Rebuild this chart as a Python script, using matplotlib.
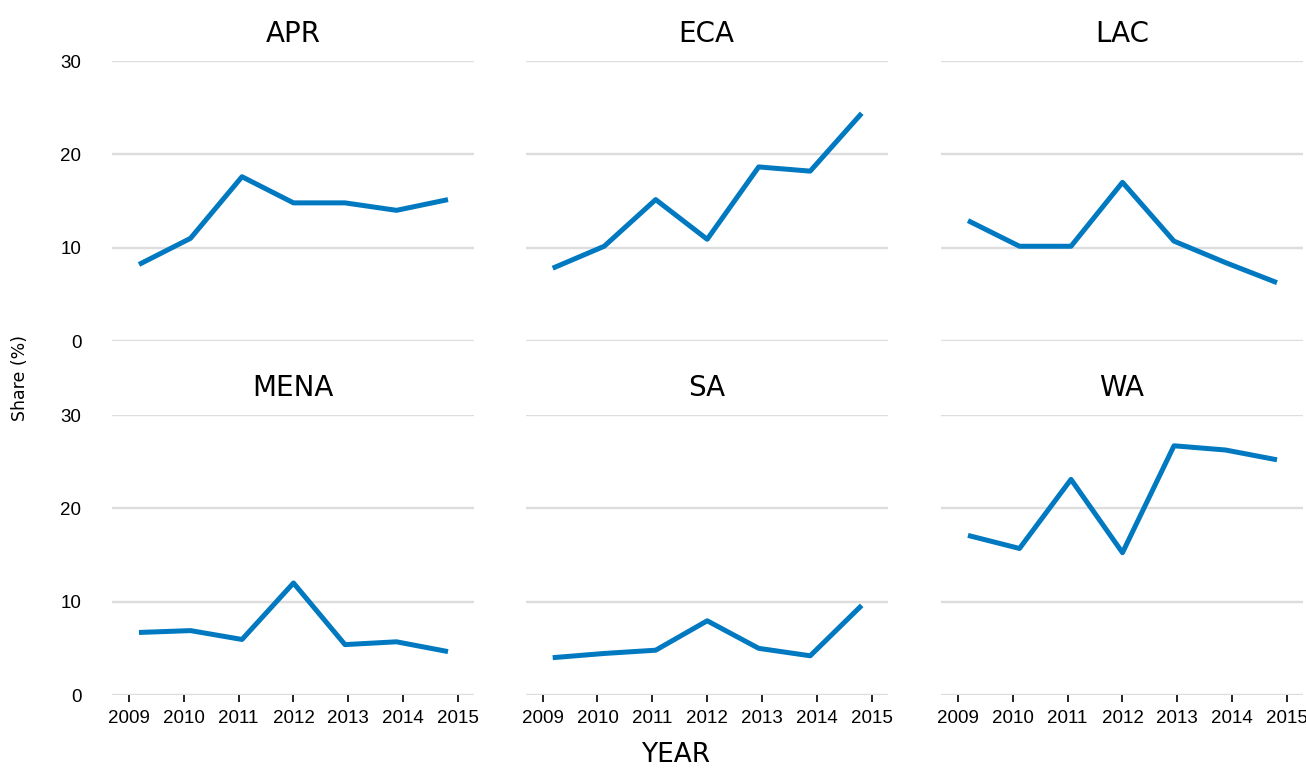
import numpy as np
import matplotlib.pyplot as plt

# share of projects by region, 2009-2015
years = [2009, 2010, 2011, 2012, 2013, 2014, 2015]
regions = ["APR", "ECA", "LAC", "MENA", "SA", "WA"]

apr = [8.2, 11.0, 17.6, 14.8, 14.8, 14.0, 15.15]
eca = [7.8, 10.15, 15.15, 10.9, 18.65, 18.2, 24.4]
lac = [12.9, 10.15, 10.15, 17.0, 10.7, 8.4, 6.25]
mena = [6.7, 6.9, 5.95, 12.0, 5.4, 5.7, 4.65]
sa = [4.0, 4.45, 4.8, 7.95, 5.0, 4.2, 9.6]
wa = [17.1, 15.7, 23.1, 15.25, 26.7, 26.25, 25.2]

series = [apr, eca, lac, mena, sa, wa]
yticks = [0, 10, 20, 30]

line_color = "#0079c1"
grid_color = "#dddddd"
tick_font = "Liberation Sans"

W, H = 1306, 769
fig = plt.figure(figsize=(W / 100, H / 100), dpi=100)

col_left = [112, 525.7, 941]
axw = 362
row_top = [61, 415]
axh = 280

# year labels sit on a slightly wider spacing than the data points
stretch = 1.065
tick_pos = [2012 + (y - 2012) * stretch for y in years]

for i, (name, vals) in enumerate(zip(regions, series)):
    r, c = divmod(i, 3)
    left = col_left[c] / W
    bottom = 1 - (row_top[r] + axh) / H
    ax = fig.add_axes([left, bottom, axw / W, axh / H])

    for v in yticks:
        ax.axhline(v, color=grid_color, lw=1.7, zorder=1)
    ax.plot(years, vals, color=line_color, lw=3.6, solid_capstyle="butt",
            zorder=3)

    ax.set_xlim(2008.476, 2015.505)
    ax.set_ylim(0, 30)
    for s in ax.spines.values():
        s.set_visible(False)

    ax.set_yticks(yticks)
    ax.tick_params(axis="y", length=0, pad=22)
    if c == 0:
        ax.set_yticklabels([str(v) for v in yticks], fontfamily=tick_font,
                           fontsize=13.5)
    else:
        ax.set_yticklabels([])

    ax.set_xticks(tick_pos)
    if r == 1:
        ax.set_xticklabels([str(y) for y in years], fontfamily=tick_font,
                           fontsize=13.5)
        ax.tick_params(axis="x", length=5, width=1.4, color="#222222",
                       pad=6)
    else:
        ax.set_xticklabels([])
        ax.tick_params(axis="x", length=0)

    ax.set_title(name, fontsize=20, pad=13.5)

fig.text(20 / W, 1 - 378 / H, "Share (%)", rotation=90, fontsize=12.5,
         ha="center", va="center")
fig.text(676 / W, 1 - 755 / H, "YEAR", fontsize=19, ha="center",
         va="center")

fig.savefig("out.png", dpi=100)
